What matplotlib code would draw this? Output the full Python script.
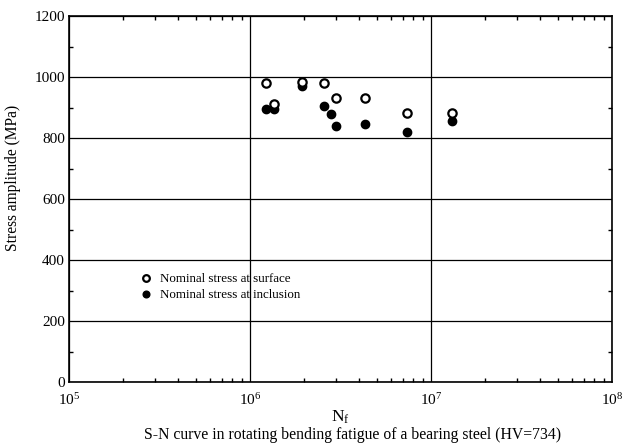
import matplotlib
matplotlib.use("Agg")
import matplotlib.pyplot as plt
from matplotlib.ticker import LogLocator, MultipleLocator, NullFormatter, LogFormatterMathtext

plt.rcParams['font.family'] = ['Liberation Serif', 'DejaVu Serif']
plt.rcParams['mathtext.fontset'] = 'custom'
plt.rcParams['mathtext.rm'] = 'Liberation Serif'
plt.rcParams['mathtext.it'] = 'Liberation Serif'

surface_N = [1.22e6, 1.36e6, 1.95e6, 2.56e6, 2.97e6, 4.32e6, 7.4e6, 1.3e7]
surface_S = [981, 911, 983, 981, 930, 930, 881, 881]
inclusion_N = [1.22e6, 1.36e6, 1.95e6, 2.56e6, 2.79e6, 2.97e6, 4.32e6, 7.4e6, 1.3e7]
inclusion_S = [895, 895, 970, 906, 879, 839, 846, 821, 856]
label_surface = "Nominal stress at surface"
label_inclusion = "Nominal stress at inclusion"
xlabel = "N$_\\mathrm{f}$"
ylabel = "Stress amplitude (MPa)"
caption = "S-N curve in rotating bending fatigue of a bearing steel (HV=734)"

fig = plt.figure(figsize=(6.3, 4.46), dpi=100)
ax = fig.add_axes([69/630, 64/446, 543/630, 366/446])

ax.plot(inclusion_N, inclusion_S, 'o', color='black', markersize=6, label=label_inclusion, zorder=3)
ax.plot(surface_N, surface_S, 'o', markerfacecolor='white', markeredgecolor='black',
        markeredgewidth=1.6, markersize=6, label=label_surface, zorder=4)

ax.set_xscale('log')
ax.set_xlim(1e5, 1e8)
ax.set_ylim(0, 1200)
ax.yaxis.set_major_locator(MultipleLocator(200))
ax.yaxis.set_minor_locator(MultipleLocator(100))
ax.xaxis.set_major_locator(LogLocator(base=10, numticks=10))
ax.xaxis.set_minor_locator(LogLocator(base=10, subs=range(2, 10), numticks=20))
ax.xaxis.set_minor_formatter(NullFormatter())
ax.xaxis.set_major_formatter(LogFormatterMathtext())

ax.grid(True, which='major', color='black', linewidth=0.9)
ax.tick_params(which='both', direction='in', top=True, right=True, labelsize=11)
ax.tick_params(which='major', length=0)
ax.tick_params(axis='y', which='major', pad=3)
ax.tick_params(axis='x', which='major', pad=7)
ax.tick_params(which='minor', length=3, width=1)
for s in ax.spines.values():
    s.set_linewidth(1.2)

ax.set_ylabel(ylabel, fontsize=11.2)
ax.yaxis.set_label_coords(-48/543, (382 - 178) / 366)
ax.set_xlabel(xlabel, fontsize=12.5)
ax.xaxis.set_label_coords(0.5, (382 - 409) / 366)
fig.text(353/630, 0.006, caption, ha='center', va='bottom', fontsize=11.3)

h, l = ax.get_legend_handles_labels()
ax.legend(h[::-1], l[::-1], loc='upper left', bbox_to_anchor=(0.105, 0.33), frameon=False,
          fontsize=9.4, handletextpad=0.5, handlelength=1.2, labelspacing=0.3, markerscale=0.8)

fig.savefig('out.png', dpi=100)
